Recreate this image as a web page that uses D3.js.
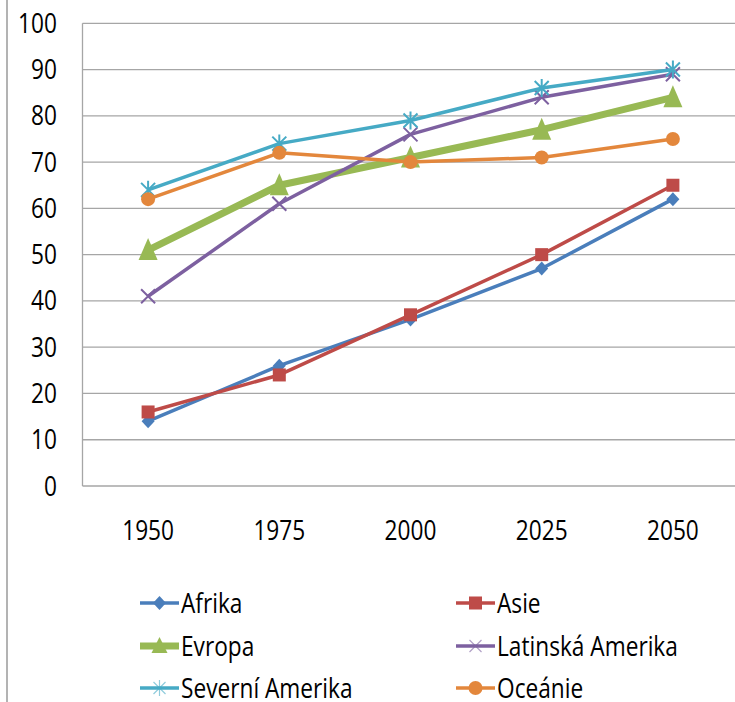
<!DOCTYPE html>
<html>
<head>
<meta charset="utf-8">
<script src="https://cdn.jsdelivr.net/npm/d3@7"></script>
<style>
  html, body { margin: 0; padding: 0; background: #fff; }
  svg { display: block; }
  text { font-family: "Open Sans", Lato, sans-serif; fill: #000; }
</style>
</head>
<body>
<svg id="chart" width="735" height="702"></svg>
<script>
// Years on the category axis
const years = ["1950", "1975", "2000", "2025", "2050"];

// Series values (percent)
const afrika    = [14, 26, 36, 47, 62];
const asie      = [16, 24, 37, 50, 65];
const evropa    = [51, 65, 71, 77, 84];
const latinska  = [41, 61, 76, 84, 89];
const severni   = [64, 74, 79, 86, 90];
const oceanie   = [62, 72, 70, 71, 75];

const seriesNames = ["Afrika", "Asie", "Evropa", "Latinská Amerika", "Severní Amerika", "Oceánie"];
const yTicks = [0, 10, 20, 30, 40, 50, 60, 70, 80, 90, 100];

const series = [
  { name: seriesNames[0], values: afrika,   color: "#4A7EBB", width: 3.5, marker: "diamond" },
  { name: seriesNames[1], values: asie,     color: "#BE4B48", width: 3.5, marker: "square" },
  { name: seriesNames[2], values: evropa,   color: "#98B954", width: 7,   marker: "triangle" },
  { name: seriesNames[3], values: latinska, color: "#7D60A0", width: 3.5, marker: "x" },
  { name: seriesNames[4], values: severni,  color: "#46AAC5", width: 3.5, marker: "star" },
  { name: seriesNames[5], values: oceanie,  color: "#E3873C", width: 3.5, marker: "circle" }
];

const svg = d3.select("#chart");
const plot = { left: 82.5, right: 738.5, top: 23.3, bottom: 486 };
const sx = 0.84; // horizontal squeeze for the narrow label face
const fontSize = 27;

const x = d3.scaleBand().domain(years).range([plot.left, plot.right]);
const xc = d => x(d) + x.bandwidth() / 2;
const y = d3.scaleLinear().domain([0, 100]).range([plot.bottom, plot.top]);

// outer frame line on the left
svg.append("line")
  .attr("x1", 7).attr("x2", 7).attr("y1", 0).attr("y2", 702)
  .attr("stroke", "#9a9a9a").attr("stroke-width", 1.5);

// horizontal gridlines
svg.append("g").selectAll("line").data(yTicks).join("line")
  .attr("x1", plot.left).attr("x2", plot.right)
  .attr("y1", d => y(d)).attr("y2", d => y(d))
  .attr("stroke", "#a6a6a6").attr("stroke-width", 1.3);

// plot area left border
svg.append("line")
  .attr("x1", plot.left).attr("x2", plot.left)
  .attr("y1", plot.top).attr("y2", plot.bottom)
  .attr("stroke", "#a6a6a6").attr("stroke-width", 1.3);

// squeezed text helper
function label(g, tx, ty, str, anchor) {
  g.append("text")
    .attr("transform", `translate(${tx},${ty}) scale(${sx},1)`)
    .attr("text-anchor", anchor)
    .attr("font-size", fontSize)
    .text(str);
}

// y-axis labels
const yAxisG = svg.append("g");
yTicks.forEach(t => label(yAxisG, 57, y(t) + 9.5, t, "end"));

// x-axis labels
const xAxisG = svg.append("g");
years.forEach(yr => label(xAxisG, xc(yr), 540, yr, "middle"));

// marker drawing
function drawMarker(g, type, color) {
  switch (type) {
    case "diamond":
      g.append("path").attr("d", "M0,-7L6.5,0L0,7L-6.5,0Z").attr("fill", color);
      break;
    case "square":
      g.append("rect").attr("x", -6.5).attr("y", -6.5).attr("width", 13).attr("height", 13).attr("fill", color);
      break;
    case "triangle":
      g.append("path").attr("d", "M0,-12L9.5,10L-9.5,10Z").attr("fill", color);
      break;
    case "x":
      g.append("path").attr("d", "M-7,-7L7,7M-7,7L7,-7")
        .attr("stroke", color).attr("stroke-width", 2).attr("fill", "none");
      break;
    case "star":
      g.append("path").attr("d", "M-7,-7L7,7M-7,7L7,-7M0,-9L0,9")
        .attr("stroke", color).attr("stroke-width", 2).attr("fill", "none");
      break;
    case "circle":
      g.append("circle").attr("r", 7).attr("fill", color);
      break;
  }
}

// series lines and markers
const line = d3.line().x((d, i) => xc(years[i])).y(d => y(d));
series.forEach(s => {
  const g = svg.append("g");
  g.append("path")
    .attr("d", line(s.values))
    .attr("fill", "none")
    .attr("stroke", s.color)
    .attr("stroke-width", s.width)
    .attr("stroke-linejoin", "round");
  s.values.forEach((v, i) => {
    const mg = g.append("g").attr("transform", `translate(${xc(years[i])},${y(v)})`);
    drawMarker(mg, s.marker, s.color);
  });
});

// legend: two columns, three rows
const legendCols = [140, 456];
const legendRows = [603, 646, 688];
series.forEach((s, i) => {
  const lx = legendCols[i % 2];
  const ly = legendRows[Math.floor(i / 2)];
  const g = svg.append("g");
  g.append("line")
    .attr("x1", lx).attr("x2", lx + 39)
    .attr("y1", ly).attr("y2", ly)
    .attr("stroke", s.color)
    .attr("stroke-width", s.width);
  const mg = g.append("g").attr("transform", `translate(${lx + 19.5},${ly})`);
  if (s.marker === "x" || s.marker === "star") {
    mg.append("path")
      .attr("d", s.marker === "x" ? "M-6,-6L6,6M-6,6L6,-6" : "M-6,-6L6,6M-6,6L6,-6M0,-8L0,8")
      .attr("stroke", s.color).attr("stroke-width", 1.2).attr("opacity", 0.6).attr("fill", "none");
  } else if (s.marker === "triangle") {
    mg.append("path").attr("d", "M0,-9L8,7L-8,7Z").attr("fill", s.color);
  } else {
    drawMarker(mg, s.marker, s.color);
  }
  label(g, lx + 41, ly + 9.5, s.name, "start");
});
</script>
</body>
</html>
